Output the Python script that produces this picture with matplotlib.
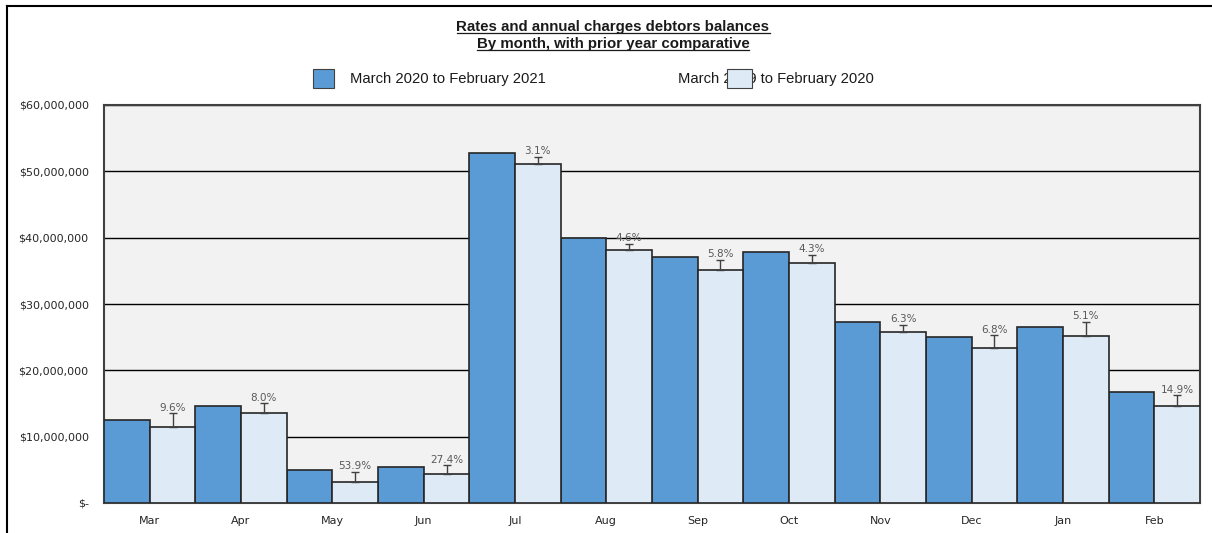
import matplotlib.pyplot as plt
import numpy as np
from matplotlib.lines import Line2D
from matplotlib.patches import Rectangle

meses = ["Mar", "Apr", "May", "Jun", "Jul", "Aug", "Sep", "Oct", "Nov", "Dec", "Jan", "Feb"]
actual = [12.55, 14.62, 4.95, 5.48, 52.7, 39.95, 37.13, 37.8, 27.35, 24.98, 26.49, 16.78]
anterior = [11.45, 13.53, 3.22, 4.30, 51.15, 38.2, 35.1, 36.25, 25.75, 23.4, 25.25, 14.62]
variacion = ["9.6%", "8.0%", "53.9%", "27.4%", "3.1%", "4.6%", "5.8%", "4.3%", "6.3%", "6.8%", "5.1%", "14.9%"]
bigote = [2.1, 1.5, 1.5, 1.4, 1.05, 0.9, 1.6, 1.2, 1.1, 1.9, 2.1, 1.65]
ticks_y = [0, 10, 20, 30, 40, 50, 60]
etiquetas_y = ["$-", "$10,000,000", "$20,000,000", "$30,000,000", "$40,000,000", "$50,000,000", "$60,000,000"]

AZUL = "#5B9BD5"
CELESTE = "#DEEAF6"
BORDE = "#262626"

fig = plt.figure(figsize=(12.12, 5.33), dpi=100)
ax = fig.add_axes([104 / 1212, 30 / 533, 1096 / 1212, 398 / 533])
ax.set_facecolor("#F2F2F2")

x = np.arange(len(meses))
ancho = 0.5
ax.bar(x - ancho / 2, actual, width=ancho, color=AZUL, edgecolor=BORDE, linewidth=1.2, zorder=3)
ax.bar(x + ancho / 2, anterior, width=ancho, color=CELESTE, edgecolor=BORDE, linewidth=1.2, zorder=3)

# bigotes con la variacion porcentual
ax.errorbar(x + ancho / 2, anterior, yerr=[np.zeros(len(x)), bigote], fmt="none",
            ecolor="#404040", elinewidth=1, capsize=3, capthick=1, zorder=4)
for i in range(len(x)):
    ax.annotate(variacion[i], (x[i] + ancho / 2, anterior[i] + bigote[i]), xytext=(0, 4),
                textcoords="offset points", ha="center", va="center", fontsize=7.5,
                color="#595959", zorder=5)

ax.set_xlim(-0.5, len(meses) - 0.5)
ax.set_ylim(0, 60)
ax.set_yticks(ticks_y)
ax.set_yticklabels(etiquetas_y, fontsize=8, color="#262626")
ax.set_xticks(x)
ax.set_xticklabels(meses, fontsize=8, color="#262626")
ax.tick_params(length=0, pad=9)
ax.tick_params(axis="y", pad=11)
ax.yaxis.grid(True, color="#000000", linewidth=1, zorder=0)
ax.set_axisbelow(True)
for s in ax.spines.values():
    s.set_color("#404040")
    s.set_linewidth(1.5)

# marco exterior
fig.add_artist(Line2D([7 / 1212, 7 / 1212], [0, 1 - 6 / 533], color="black", linewidth=1.5))
fig.add_artist(Line2D([7 / 1212, 1], [1 - 6 / 533, 1 - 6 / 533], color="black", linewidth=1.5))

# titulo subrayado
titulos = ["Rates and annual charges debtors balances", "By month, with prior year comparative"]
alturas = [27, 44]
fig.canvas.draw()
render = fig.canvas.get_renderer()
for t, yy in zip(titulos, alturas):
    txt = fig.text(613 / 1212, 1 - yy / 533, t, ha="center", va="center", fontsize=10.8,
                   fontweight="bold", family="Liberation Sans", color="#1a1a1a")
    bb = txt.get_window_extent(renderer=render)
    yl = (bb.y0 + 1) / fig.bbox.height
    fig.add_artist(Line2D([bb.x0 / fig.bbox.width, bb.x1 / fig.bbox.width], [yl, yl],
                          color="#1a1a1a", linewidth=0.9))

# leyenda
fig.add_artist(Rectangle((313 / 1212, 1 - 88 / 533), 21 / 1212, 19 / 533, facecolor=AZUL,
                         edgecolor="#404040", linewidth=0.8, zorder=5))
fig.text(350 / 1212, 1 - 79 / 533, "March 2020 to February 2021", ha="left", va="center",
         fontsize=10.6, family="Liberation Sans", color="#1a1a1a")
fig.text(678 / 1212, 1 - 79 / 533, "March 2019 to February 2020", ha="left", va="center",
         fontsize=10.6, family="Liberation Sans", color="#1a1a1a")
fig.add_artist(Rectangle((727 / 1212, 1 - 88 / 533), 25 / 1212, 19 / 533, facecolor=CELESTE,
                         edgecolor="#404040", linewidth=0.8, zorder=5))

plt.savefig("out.png", dpi=100)
